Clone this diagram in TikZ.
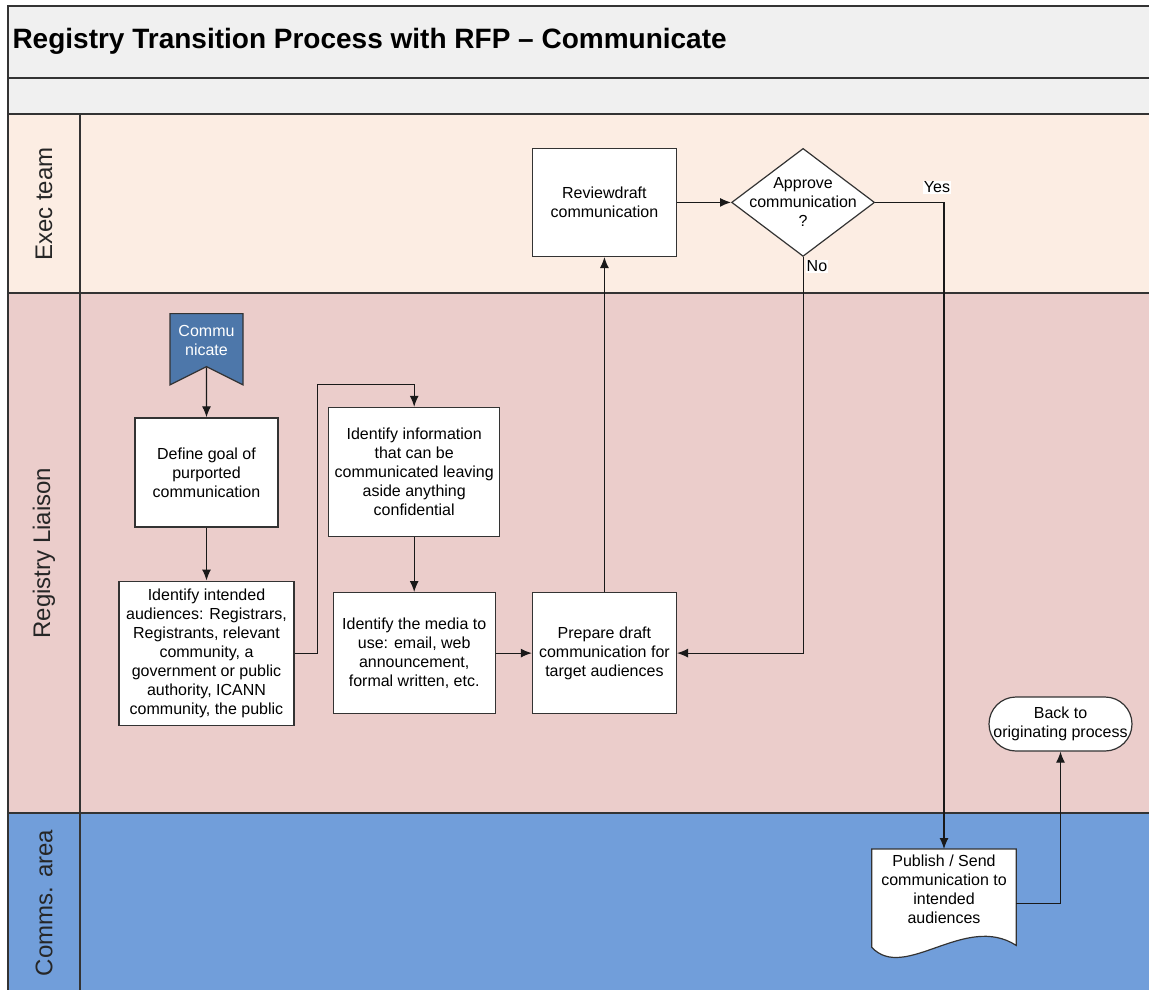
\documentclass[tikz,border=0pt]{standalone}
\usepackage{fontspec}
\setmainfont{Liberation Sans}
\usepackage{tikz}
\usetikzlibrary{shapes.geometric, shapes.symbols, arrows.meta, positioning, backgrounds}
\definecolor{barfill}{HTML}{F0F0F0}
\definecolor{execfill}{HTML}{FCEDE3}
\definecolor{liaisonfill}{HTML}{EBCDCB}
\definecolor{commsfill}{HTML}{719EDA}
\definecolor{startfill}{HTML}{4D77AA}
\definecolor{edge}{HTML}{333333}
\newcommand{\boxfont}{\fontsize{16}{19}\selectfont}
\tikzstyle{lane} = [draw = edge, line width = 1.3pt]
\tikzstyle{lanename} = [rotate = 90, font = \fontsize{24}{28}\selectfont, text = black!85]
\tikzstyle{startflag} = [signal, signal to = nowhere, signal from = south, signal pointer angle = 127, minimum width = 73pt, minimum height = 67pt, inner sep = 0pt, draw = edge, line width = 1.2pt, fill = startfill, text = white, font = \boxfont]
\tikzstyle{process} = [rectangle, draw = edge, line width = 1.2pt, fill = white, inner sep = 3pt, font = \boxfont]
\tikzstyle{decision} = [diamond, draw = edge, line width = 1.2pt, fill = white, minimum width = 143pt, minimum height = 108pt, inner sep = 0pt]
\tikzstyle{docbox} = [rectangle, minimum width = 144pt, minimum height = 80pt, inner sep = 3pt, font = \boxfont]
\tikzstyle{docline} = [draw = edge, line width = 1.2pt, fill = white]
\tikzstyle{terminal} = [rectangle, rounded corners = 27pt, draw = edge, line width = 1.2pt, fill = white, minimum width = 143pt, minimum height = 54pt, inner sep = 0pt, font = \boxfont]
\tikzstyle{flow} = [line width = 1.2pt, draw = black!90, -{Latex[length = 11pt, width = 9pt]}]
\tikzstyle{answer} = [font = \boxfont, fill = white, inner sep = 1pt]

\begin{document}
\begin{tikzpicture}[x = 1pt, y = 1pt, align = center, node distance = 40pt]
  \useasboundingbox (0,0) rectangle (1149,-990);
  %Lanes
  \begin{scope}[on background layer]
    \draw [lane, fill = barfill] (8,-6) rectangle (1160,-78);
    \draw [lane, fill = barfill] (8,-78) rectangle (1160,-114);
    \draw [lane, fill = execfill] (8,-114) rectangle (1160,-293);
    \draw [lane, fill = liaisonfill] (8,-293) rectangle (1160,-813);
    \draw [lane, fill = commsfill] (8,-813) rectangle (1160,-1000);
    \draw [lane] (80,-114) -- (80,-1000);
  \end{scope}
  \node (title) [anchor = west, font = \bfseries\fontsize{28}{32}\selectfont] at (9,-41) {Registry Transition Process with RFP – Communicate};
  \node (exec) [lanename] at (44,-204) {Exec team};
  \node (liaison) [lanename] at (44,-553) {Registry Liaison};
  \node (comms) [lanename] at (44,-903) {Comms. area};
  %Registry Liaison
  \node (start) [startflag, anchor = north] at (206.5,-313) {Commu\\nicate};
  \node (define) [process, minimum width = 143pt, minimum height = 109pt, below = 50pt of start] {Define goal of\\purported\\communication};
  \draw [flow] (start) -- (define);
  \node (audiences) [process, minimum width = 175pt, minimum height = 144pt, below = 53pt of define] {Identify intended\\audiences: Registrars,\\Registrants, relevant\\community, a\\government or public\\authority, ICANN\\community, the public};
  \draw [flow] (define) -- (audiences);
  \node (media) [process, minimum width = 162pt, minimum height = 121pt, right = 38pt of audiences] {Identify the media to\\use: email, web\\announcement,\\formal written, etc.};
  \node (info) [process, minimum width = 171pt, minimum height = 129pt, above = 55pt of media] {Identify information\\that can be\\communicated leaving\\aside anything\\confidential};
  \draw [flow] (audiences.east) -- ++(23,0) |- ([yshift = 22pt]info.north) -- (info.north);
  \draw [flow] (info) -- (media);
  \node (prepare) [process, minimum width = 144pt, minimum height = 121pt, right = 36pt of media] {Prepare draft\\communication for\\target audiences};
  \draw [flow] (media) -- (prepare);
  %Exec team
  \node (review) [process, minimum width = 144pt, minimum height = 108pt, above = 335pt of prepare] {Reviewdraft\\communication};
  \draw [flow] (prepare) -- (review);
  \node (approve) [decision, right = 54pt of review, label = {[font = \boxfont, align = center]center:Approve\\communication\\?}] {};
  \draw [flow] (review) -- (approve);
  \draw [flow] (approve.south) |- node [answer, pos = 0, anchor = north west, xshift = 2pt, yshift = -2pt] {No} (prepare.east);
  %Comms. area
  \node (publish) [docbox, anchor = north] at (944,-849) {Publish / Send\\communication to\\intended\\audiences};
  \begin{scope}[on background layer]
    \draw [docline] (publish.north west) -- ([yshift = -18pt]publish.south west)
      .. controls ([shift = {(33pt,-53pt)}]publish.south west) and ([shift = {(-51pt,17pt)}]publish.south east) .. ([yshift = -16pt]publish.south east)
      -- (publish.north east) -- cycle;
  \end{scope}
  \draw [flow] (approve.east) -| node [answer, pos = 0.5, above = 8pt, xshift = -7pt] {Yes} (publish.north);
  \node (back) [terminal] at (1060.5,-724) {Back to\\originating process};
  \draw [flow] ([yshift = -14pt]publish.east) -| (back.south);
\end{tikzpicture}
\end{document}
